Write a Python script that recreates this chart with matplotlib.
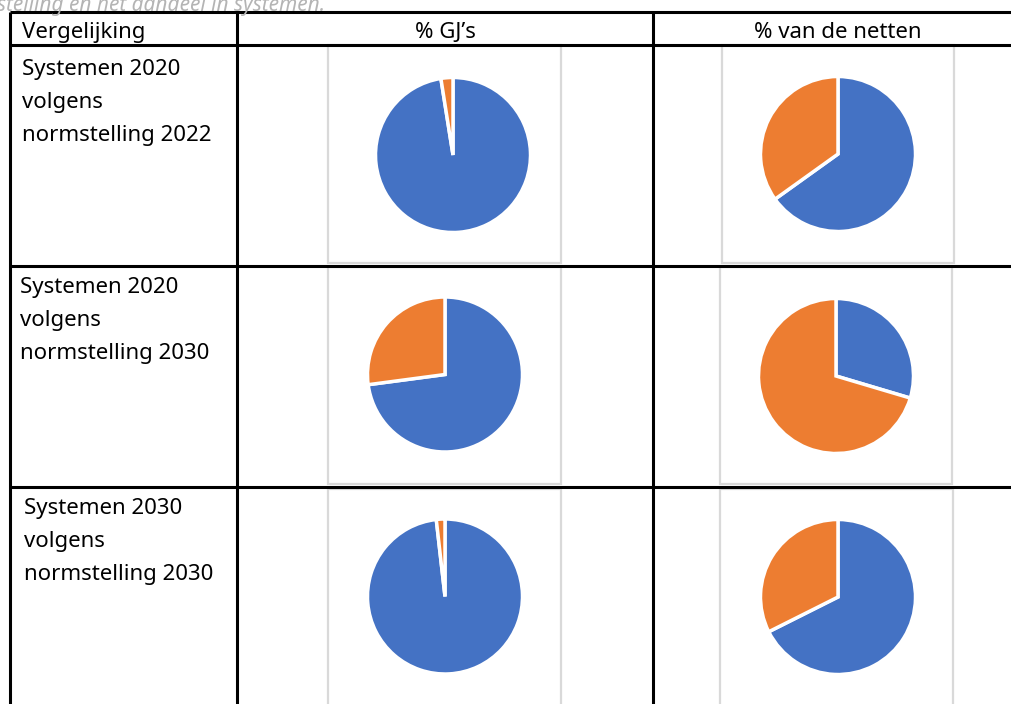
import matplotlib.pyplot as plt
from matplotlib.patches import Rectangle

# data (percentages, blue / orange)
rows = [["Systemen 2020", "volgens", "normstelling 2022"],
        ["Systemen 2020", "volgens", "normstelling 2030"],
        ["Systemen 2030", "volgens", "normstelling 2030"]]
headers = ["Vergelijking", "% GJ\u2019s", "% van de netten"]
gj_blue = [97.5, 72.9, 98.2]
gj_orange = [2.5, 27.1, 1.8]
net_blue = [65.1, 29.6, 67.6]
net_orange = [34.9, 70.4, 32.4]
caption = "stelling en het aandeel in systemen."

BLUE = "#4472C4"
ORANGE = "#ED7D31"
W, H = 1012, 704
FS = 16

plt.rcParams['font.family'] = ['Noto Sans', 'DejaVu Sans']

fig = plt.figure(figsize=(W / 100, H / 100), dpi=100)
bg = fig.add_axes([0, 0, 1, 1])
bg.set_xlim(0, W)
bg.set_ylim(H, 0)
bg.axis("off")

# table grid
col_x = [10, 237, 653, 1023]
row_y = [12, 44.5, 266, 487, 720]
for x in col_x:
    bg.plot([x, x], [row_y[0], row_y[-1]], color="black", lw=2.2, solid_capstyle="butt")
for y in row_y[:-1]:
    bg.plot([col_x[0], col_x[-1]], [y, y], color="black", lw=2.2, solid_capstyle="butt")

# caption (clipped at the top of the page, like the reference)
bg.text(-3, 10.5, caption, fontsize=15, style="italic", color="#b4b4b4", va="baseline")

# header texts
bg.text(22, 38, headers[0], fontsize=FS, va="baseline")
bg.text((col_x[1] + col_x[2]) / 2, 38, headers[1], fontsize=FS, va="baseline", ha="center")
bg.text(838, 38, headers[2], fontsize=FS, va="baseline", ha="center")

# row label texts, one line at a time
label_pos = [(22, 75), (20, 293), (24, 514)]
for (x, y), lines in zip(label_pos, rows):
    for k, line in enumerate(lines):
        bg.text(x, y + k * 33, line, fontsize=FS, va="baseline")

# chart frames (x0, y0, x1, y1) in pixels
frames_gj = [(328, 45, 561, 263), (328, 267, 561, 484), (328, 489, 561, 710)]
frames_net = [(722, 45, 954, 263), (720, 267, 952, 484), (720, 489, 953, 710)]
for f in frames_gj + frames_net:
    bg.add_patch(Rectangle((f[0], f[1]), f[2] - f[0], f[3] - f[1],
                           fill=False, edgecolor="#d9d9d9", lw=1.6))

# pie centres and radius in pixels
centres_gj = [(453, 155), (445, 374.5), (445, 596.5)]
centres_net = [(838, 154), (836, 376), (838, 597)]
R = 77.5


def draw_pie(cx, cy, values):
    ax = fig.add_axes([(cx - R) / W, 1 - (cy + R) / H, 2 * R / W, 2 * R / H])
    ax.pie(values, colors=[BLUE, ORANGE], startangle=90, counterclock=False,
           radius=1, wedgeprops=dict(edgecolor="white", linewidth=2.5))
    ax.set_xlim(-1, 1)
    ax.set_ylim(-1, 1)
    ax.set_aspect("auto")
    ax.axis("off")


for i in range(3):
    draw_pie(*centres_gj[i], [gj_blue[i], gj_orange[i]])
    draw_pie(*centres_net[i], [net_blue[i], net_orange[i]])

fig.savefig("out.png", dpi=100)
